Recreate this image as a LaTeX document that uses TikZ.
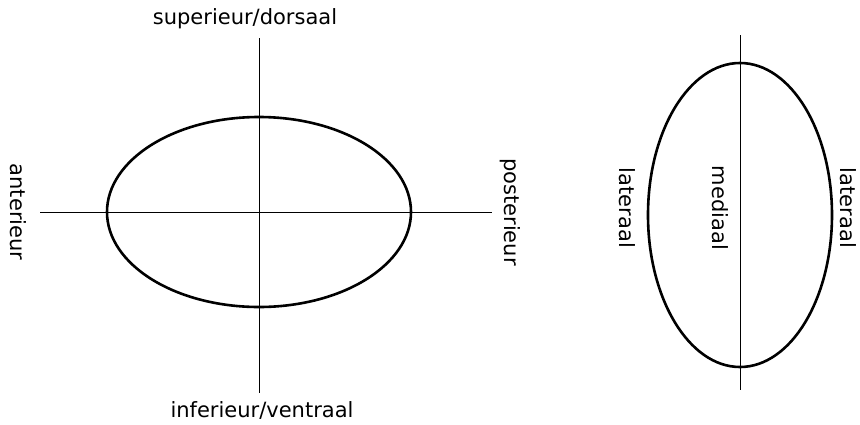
\documentclass[tikz,border=0pt]{standalone}
\usepackage{fontspec}
\setmainfont{DejaVu Sans}
\usepackage{tikz}
\usetikzlibrary{positioning, calc}

\begin{document}
\begin{tikzpicture}[
  x=1pt, y=-1pt,
  axis/.style={draw=black, line width=0.9pt},
  body/.style={draw=black, line width=2.6pt},
  label/.style={font=\fontsize{21}{24}\selectfont, inner sep=0pt},
  sidelabel/.style={label, rotate=-90},
]
\useasboundingbox (0,0) rectangle (860,424);

% left: sagittal view
\coordinate (lc) at (259,212);
\coordinate (ltop) at (259,38);
\coordinate (lbot) at (259,393);
\coordinate (lleft) at (40,212);
\coordinate (lright) at (492,212);
\draw[axis] (ltop) -- (lbot);
\draw[axis] (lleft) -- (lright);
\draw[body] (lc) ellipse[x radius=152, y radius=95];

\node[label] (sup) at (245,19) {superieur/dorsaal};
\node[label] (inf) at (262,410) {inferieur/ventraal};
\node[sidelabel] (ant) at (18,212) {anterieur};
\node[sidelabel] (post) at (510,212) {posterieur};

% right: transverse view
\coordinate (rc) at (740,215);
\coordinate (rtop) at (740,35);
\coordinate (rbot) at (740,390);
\draw[axis] (rtop) -- (rbot);
\draw[body] (rc) ellipse[x radius=92, y radius=152];

\node[sidelabel] (latl) at (627,208) {lateraal};
\node[sidelabel] (med) at (720,208) {mediaal};
\node[sidelabel] (latr) at (848,208) {lateraal};
\end{tikzpicture}
\end{document}
